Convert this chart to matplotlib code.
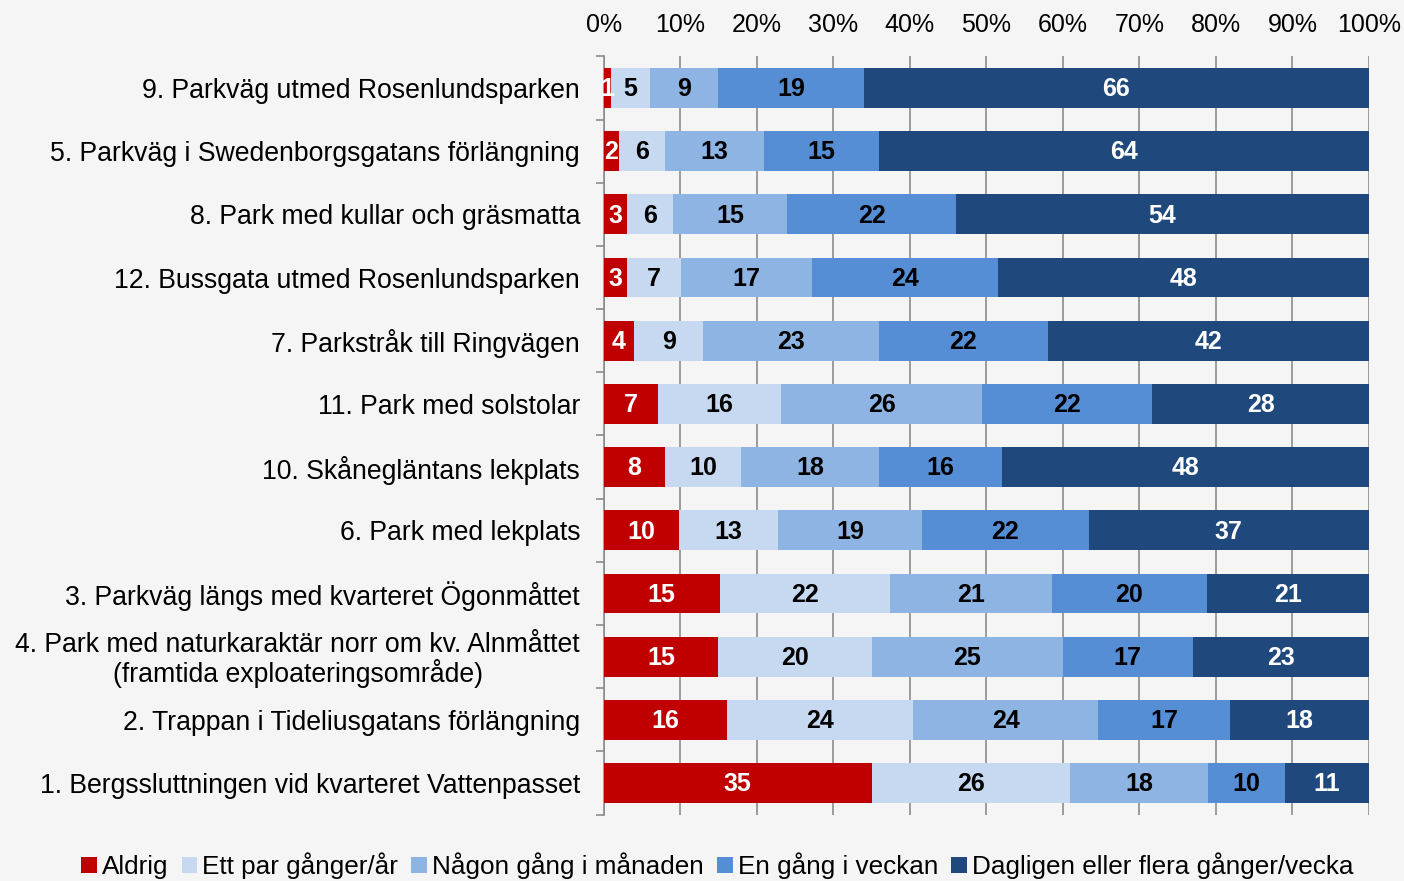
import matplotlib
matplotlib.use("Agg")
import matplotlib.pyplot as plt
import numpy as np

plt.rcParams['font.family'] = ['Liberation Sans', 'DejaVu Sans']

categories = [
    "9. Parkväg utmed Rosenlundsparken",
    "5. Parkväg i Swedenborgsgatans förlängning",
    "8. Park med kullar och gräsmatta",
    "12. Bussgata utmed Rosenlundsparken",
    "7. Parkstråk till Ringvägen",
    "11. Park med solstolar",
    "10. Skånegläntans lekplats",
    "6. Park med lekplats",
    "3. Parkväg längs med kvarteret Ögonmåttet",
    "4. Park med naturkaraktär norr om kv. Alnmåttet\n(framtida exploateringsområde)",
    "2. Trappan i Tideliusgatans förlängning",
    "1. Bergssluttningen vid kvarteret Vattenpasset",
]
series_names = ["Aldrig", "Ett par gånger/år", "Någon gång i månaden",
                "En gång i veckan", "Dagligen eller flera gånger/vecka"]
aldrig   = [1, 2, 3, 3, 4, 7, 8, 10, 15, 15, 16, 35]
ett_par  = [5, 6, 6, 7, 9, 16, 10, 13, 22, 20, 24, 26]
manaden  = [9, 13, 15, 17, 23, 26, 18, 19, 21, 25, 24, 18]
veckan   = [19, 15, 22, 24, 22, 22, 16, 22, 20, 17, 17, 10]
dagligen = [66, 64, 54, 48, 42, 28, 48, 37, 21, 23, 18, 11]
colors = ["#C00000", "#C6D9F1", "#8DB4E2", "#558ED5", "#1F497D"]
text_colors = ["white", "black", "black", "black", "white"]
xtick_labels = [f"{v}%" for v in range(0, 101, 10)]

data = np.array([aldrig, ett_par, manaden, veckan, dagligen], dtype=float)
totals = data.sum(axis=0)
pct = data / totals * 100

bg = "#F5F5F5"
fig = plt.figure(figsize=(14.04, 8.81), dpi=100, facecolor=bg)
ax = fig.add_axes([0.430, 0.0754, 0.545, 0.8606])
ax.set_facecolor(bg)

n = len(categories)
y = np.arange(n)
left = np.zeros(n)
for i in range(5):
    ax.barh(y, pct[i], left=left, height=0.63, color=colors[i],
            label=series_names[i], zorder=3)
    for j in range(n):
        ax.text(left[j] + pct[i][j] / 2, y[j] + 0.02, f"{int(data[i][j])}",
                ha="center", va="center", color=text_colors[i],
                fontsize=18, fontweight="bold", zorder=4)
    left += pct[i]

ax.set_ylim(n - 0.5, -0.5)
ax.set_xlim(0, 100)
ax.xaxis.tick_top()
ax.set_xticks(np.arange(0, 101, 10))
ax.set_xticklabels(xtick_labels, fontsize=18)
ax.tick_params(axis="x", length=0, pad=14)
ax.grid(axis="x", color="#8C8C8C", linewidth=1.2, zorder=0)
ax.set_yticks(y)
ax.set_yticklabels(categories, fontsize=19.2)
ax.tick_params(axis="y", length=0, pad=17)
ax.set_yticks(np.arange(-0.5, n, 1), minor=True)
ax.tick_params(axis="y", which="minor", length=6, color="#8C8C8C", width=1.2)
for s in ["top", "right", "bottom"]:
    ax.spines[s].set_visible(False)
ax.spines["left"].set_color("#8C8C8C")
ax.spines["left"].set_linewidth(1.2)
for lbl in ax.get_yticklabels():
    lbl.set_multialignment("center")
    lbl.set_linespacing(1.05)
    lbl.set_y(lbl.get_position()[1])

handles, labels = ax.get_legend_handles_labels()
fig.legend(handles, labels, loc="center", bbox_to_anchor=(0.511, 0.017),
           ncol=5, frameon=False, fontsize=18.8, handlelength=0.6,
           handleheight=0.6, handletextpad=0.2, columnspacing=0.5)

fig.savefig("out.png", dpi=100, facecolor=bg)
